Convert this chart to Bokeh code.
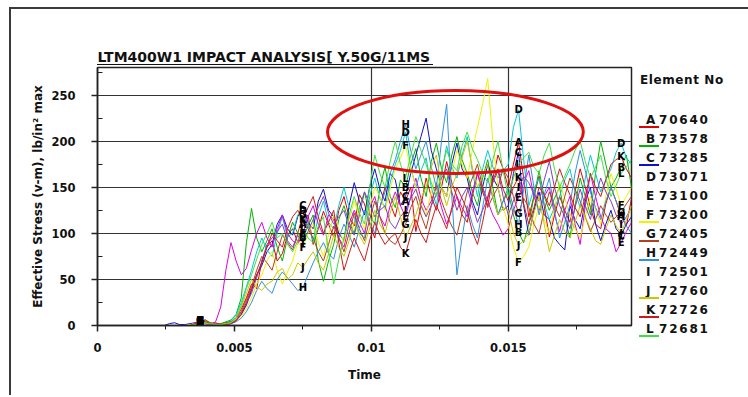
from bokeh.plotting import figure
from bokeh.layouts import row
from bokeh.models import FixedTicker, Div
from bokeh.core.properties import value
from bokeh.embed import file_html
from bokeh.resources import INLINE

TITLE = "LTM400W1 IMPACT ANALYSIS[ Y.50G/11MS"
X_LABEL = "Time"
Y_LABEL = "Effective Stress (v-m), lb/in\u00b2 max"
LEGEND_TITLE = "Element No"

TIME = [0, 0.0001875, 0.000375, 0.0005625, 0.00075, 0.0009375, 0.001125, 0.0013125, 0.0015, 0.0016875,
        0.001875, 0.0020625, 0.00225, 0.0024375, 0.002625, 0.0028125, 0.003, 0.0031875, 0.003375, 0.0035625,
        0.00375, 0.0039375, 0.004125, 0.0043125, 0.0045, 0.0046875, 0.004875, 0.0050625, 0.00525, 0.0054375,
        0.005625, 0.0058125, 0.006, 0.0061875, 0.006375, 0.0065625, 0.00675, 0.0069375, 0.007125, 0.0073125,
        0.0075, 0.0076875, 0.007875, 0.0080625, 0.00825, 0.0084375, 0.008625, 0.0088125, 0.009, 0.0091875,
        0.009375, 0.0095625, 0.00975, 0.0099375, 0.010125, 0.0103125, 0.0105, 0.0106875, 0.010875, 0.0110625,
        0.01125, 0.0114375, 0.011625, 0.0118125, 0.012, 0.0121875, 0.012375, 0.0125625, 0.01275, 0.0129375,
        0.013125, 0.0133125, 0.0135, 0.0136875, 0.013875, 0.0140625, 0.01425, 0.0144375, 0.014625, 0.0148125,
        0.015, 0.0151875, 0.015375, 0.0155625, 0.01575, 0.0159375, 0.016125, 0.0163125, 0.0165, 0.0166875,
        0.016875, 0.0170625, 0.01725, 0.0174375, 0.017625, 0.0178125, 0.018, 0.0181875, 0.018375, 0.0185625,
        0.01875, 0.0189375, 0.019125, 0.0193125, 0.0195]

LETTERS = ["A", "B", "C", "D", "E", "F", "G", "H", "I", "J", "K", "L"]
ELEMENT_IDS = ["70640", "73578", "73285", "73071", "73100", "73200",
               "72405", "72449", "72501", "72760", "72726", "72681"]
COLORS = ["#e00000", "#00b400", "#1010c8", "#00c8d2", "#e000e0", "#f0f000",
          "#b04020", "#3090e0", "#8040c0", "#c8c800", "#d01818", "#40e040"]
LEGEND_LINE = [True, True, True, False, False, True, True, True, False, True, True, True]

S_A = [0, 0, 0, 0, 0, 0, 0, 0, 0, 0,
       0, 0, 0, 0, 0, 0, 0, 0, 1, 0,
       4, 6, 2, 3, 1, 2, 4, 8, 18, 30,
       45, 40, 70, 85, 92, 70, 78, 98, 105, 90,
       110, 120, 88, 105, 124, 110, 96, 125, 140, 118,
       108, 142, 132, 110, 95, 128, 150, 132, 118, 145,
       135, 150, 102, 130, 160, 140, 125, 150, 178, 155,
       140, 120, 112, 140, 165, 145, 130, 160, 185, 170,
       150, 175, 199, 160, 118, 140, 162, 130, 96, 120,
       140, 125, 112, 145, 170, 150, 128, 110, 105, 132,
       150, 135, 118, 108, 138]
S_B = [0, 0, 0, 0, 0, 0, 0, 0, 0, 0,
       0, 0, 0, 0, 0, 0, 0, 0, 0, 2,
       5, 4, 3, 1, 2, 4, 6, 12, 30, 90,
       127, 95, 80, 92, 105, 85, 70, 95, 112, 100,
       95, 108, 120, 70, 48, 70, 88, 115, 130, 112,
       100, 128, 145, 120, 110, 150, 172, 140, 128, 158,
       150, 175, 192, 160, 140, 178, 198, 170, 155, 185,
       205, 180, 165, 145, 130, 160, 180, 150, 120, 135,
       145, 120, 101, 90, 110, 140, 168, 140, 125, 138,
       150, 118, 95, 130, 160, 140, 120, 165, 200, 175,
       150, 160, 172, 185, 150]
S_C = [0, 0, 0, 0, 0, 0, 0, 0, 0, 0,
       0, 0, 0, 0, 2, 3, 1, 1, 2, 3,
       4, 2, 1, 0, 0, 1, 3, 6, 12, 22,
       38, 55, 65, 80, 88, 110, 120, 105, 98, 118,
       130, 112, 105, 135, 148, 125, 118, 100, 92, 130,
       155, 135, 120, 150, 170, 148, 135, 165, 158, 130,
       140, 165, 185, 205, 225, 190, 170, 150, 140, 175,
       198, 170, 160, 135, 120, 150, 175, 160, 150, 125,
       130, 165, 188, 130, 98, 125, 145, 120, 115, 95,
       88, 82, 130, 115, 105, 135, 150, 110, 92, 110,
       125, 105, 98, 110, 118]
S_D = [0, 0, 0, 0, 0, 0, 0, 0, 0, 0,
       0, 0, 0, 0, 0, 0, 0, 0, 0, 1,
       3, 4, 2, 1, 1, 3, 5, 12, 25, 42,
       60, 80, 95, 82, 75, 100, 118, 96, 100, 120,
       125, 108, 92, 118, 135, 112, 105, 130, 150, 128,
       118, 100, 95, 140, 160, 138, 128, 155, 175, 190,
       210, 172, 150, 168, 182, 150, 130, 165, 195, 172,
       160, 185, 205, 168, 140, 170, 190, 172, 160, 168,
       175, 215, 234, 180, 130, 148, 160, 132, 115, 128,
       140, 158, 170, 145, 128, 160, 185, 165, 145, 158,
       170, 188, 198, 182, 175]
S_E = [0, 0, 0, 0, 0, 0, 0, 0, 0, 0,
       0, 0, 0, 0, 0, 0, 0, 0, 0, 1,
       3, 2, 1, 4, 20, 60, 90, 70, 55, 62,
       82, 100, 112, 95, 85, 105, 120, 100, 92, 88,
       100, 118, 130, 110, 98, 120, 115, 95, 85, 110,
       125, 112, 100, 128, 140, 118, 108, 130, 145, 130,
       118, 140, 160, 138, 125, 135, 150, 128, 110, 125,
       140, 128, 118, 145, 165, 150, 135, 120, 110, 98,
       105, 125, 139, 155, 168, 140, 125, 140, 150, 120,
       102, 125, 140, 110, 88, 130, 165, 140, 118, 105,
       100, 80, 90, 102, 112]
S_F = [0, 0, 0, 0, 0, 0, 0, 0, 0, 0,
       0, 0, 0, 0, 0, 0, 0, 0, 1, 2,
       4, 3, 2, 1, 1, 2, 3, 6, 10, 18,
       30, 45, 55, 70, 80, 60, 45, 58, 70, 90,
       85, 100, 110, 90, 75, 98, 120, 105, 90, 115,
       135, 118, 105, 128, 150, 140, 125, 148, 170, 182,
       195, 170, 150, 132, 120, 145, 165, 150, 140, 165,
       190, 175, 160, 190, 215, 240, 268, 200, 150, 128,
       110, 85, 68, 75, 85, 110, 130, 115, 100, 128,
       155, 138, 120, 105, 95, 118, 140, 125, 110, 140,
       165, 148, 130, 140, 150]
S_G = [0, 0, 0, 0, 0, 0, 0, 0, 0, 0,
       0, 0, 0, 0, 0, 0, 0, 0, 0, 2,
       5, 6, 3, 2, 2, 3, 4, 8, 15, 28,
       42, 60, 75, 68, 60, 80, 98, 90, 82, 100,
       120, 105, 95, 80, 70, 88, 108, 95, 80, 100,
       122, 105, 92, 115, 135, 118, 100, 92, 88, 98,
       110, 128, 140, 120, 105, 130, 155, 135, 120, 108,
       98, 122, 145, 160, 175, 150, 128, 140, 150, 170,
       160, 140, 122, 138, 128, 110, 100, 125, 145, 130,
       118, 140, 160, 148, 135, 118, 102, 115, 130, 120,
       112, 118, 123, 132, 140]
S_H = [0, 0, 0, 0, 0, 0, 0, 0, 0, 0,
       0, 0, 0, 0, 0, 0, 0, 0, 0, 1,
       4, 3, 2, 1, 1, 1, 2, 4, 8, 15,
       25, 38, 48, 40, 35, 50, 58, 52, 45, 38,
       41, 55, 68, 80, 90, 78, 72, 95, 110, 98,
       85, 105, 125, 112, 100, 128, 145, 165, 180, 200,
       218, 190, 170, 185, 200, 172, 150, 200, 240, 140,
       55, 95, 130, 110, 95, 128, 160, 138, 120, 135,
       150, 128, 110, 148, 185, 150, 120, 142, 160, 125,
       95, 112, 130, 165, 190, 168, 145, 128, 115, 135,
       150, 135, 120, 108, 100]
S_I = [0, 0, 0, 0, 0, 0, 0, 0, 0, 0,
       0, 0, 0, 0, 0, 0, 0, 0, 0, 1,
       3, 2, 1, 0, 0, 1, 2, 6, 14, 24,
       35, 52, 70, 88, 95, 102, 110, 92, 85, 98,
       90, 102, 115, 128, 140, 122, 110, 118, 125, 108,
       98, 120, 145, 132, 118, 125, 130, 112, 105, 118,
       125, 138, 148, 130, 118, 130, 142, 160, 170, 145,
       125, 140, 150, 130, 112, 125, 138, 155, 168, 140,
       120, 135, 150, 162, 155, 142, 135, 158, 178, 150,
       130, 118, 105, 128, 148, 130, 115, 140, 160, 145,
       135, 120, 110, 118, 128]
S_J = [0, 0, 0, 0, 0, 0, 0, 0, 0, 0,
       0, 0, 0, 0, 0, 0, 0, 0, 0, 1,
       3, 2, 2, 1, 1, 2, 3, 8, 20, 35,
       50, 42, 38, 45, 48, 58, 62, 50, 55, 68,
       63, 72, 80, 68, 60, 78, 98, 85, 75, 92,
       112, 98, 88, 105, 125, 110, 100, 122, 140, 118,
       95, 108, 120, 138, 150, 172, 185, 150, 130, 150,
       165, 182, 200, 172, 150, 162, 175, 140, 120, 128,
       125, 100, 87, 92, 100, 122, 140, 110, 80, 98,
       115, 102, 95, 112, 130, 118, 105, 92, 88, 105,
       120, 108, 100, 115, 130]
S_K = [0, 0, 0, 0, 0, 0, 0, 0, 0, 0,
       0, 0, 0, 0, 0, 0, 0, 0, 0, 2,
       5, 4, 2, 1, 1, 1, 2, 5, 12, 25,
       40, 55, 68, 85, 100, 92, 85, 105, 118, 125,
       115, 128, 140, 118, 100, 112, 125, 90, 60, 78,
       95, 82, 70, 92, 112, 98, 88, 95, 100, 85,
       78, 98, 115, 100, 90, 112, 130, 118, 105, 128,
       150, 138, 125, 102, 88, 112, 140, 158, 170, 148,
       135, 150, 161, 132, 110, 128, 150, 142, 130, 150,
       170, 155, 142, 128, 118, 140, 165, 150, 140, 158,
       175, 180, 183, 170, 160]
S_L = [0, 0, 0, 0, 0, 0, 0, 0, 0, 0,
       0, 0, 0, 0, 0, 0, 0, 0, 0, 1,
       4, 3, 2, 1, 1, 2, 3, 10, 22, 40,
       55, 72, 88, 100, 112, 95, 100, 88, 80, 92,
       105, 95, 90, 108, 118, 80, 45, 72, 95, 120,
       140, 122, 110, 150, 185, 165, 150, 178, 200, 175,
       160, 185, 205, 190, 175, 155, 140, 168, 190, 175,
       168, 195, 210, 192, 180, 165, 155, 180, 200, 168,
       140, 160, 175, 182, 188, 172, 165, 185, 198, 170,
       150, 162, 175, 190, 200, 178, 160, 172, 185, 160,
       140, 152, 165, 172, 180]
SERIES = [S_A, S_B, S_C, S_D, S_E, S_F, S_G, S_H, S_I, S_J, S_K, S_L]

# sample indices where the curve letters are stamped
LETTER_IDX = [20, 40, 60, 82, 102]

X_TICKS = [0, 0.005, 0.01, 0.015]
X_TICK_LABELS = ["0", "0.005", "0.01", "0.015"]
X_MINOR = [0.0025, 0.0075, 0.0125, 0.0175]
X_GRID = [0.01, 0.015]
Y_TICKS = [0, 50, 100, 150, 200, 250]
Y_MINOR = [25, 75, 125, 175, 225, 275]

# highlight ellipse (data units)
ELL_X, ELL_Y, ELL_W, ELL_H = 0.01307, 210, 0.00934, 90

FONT = "DejaVu Sans"
INK = "#111111"

p = figure(width=624, height=386, x_range=(0, 0.0195), y_range=(0, 280),
           output_backend="svg", toolbar_location=None,
           min_border_left=86, min_border_top=58, min_border_right=4, min_border_bottom=70,
           title=TITLE)
p.background_fill_color = "white"
p.border_fill_color = "white"
p.outline_line_color = "#222222"
p.outline_line_width = 1.5

p.title.text_font = FONT
p.title.text_font_size = "14px"
p.title.text_font_style = "bold"
p.title.align = "left"
p.title.standoff = 5
p.title.text_color = INK

# axes
p.xaxis.ticker = FixedTicker(ticks=X_TICKS, minor_ticks=X_MINOR)
p.xaxis.major_label_overrides = {t: s for t, s in zip(X_TICKS, X_TICK_LABELS)}
p.yaxis.ticker = FixedTicker(ticks=Y_TICKS, minor_ticks=Y_MINOR)
for ax in (p.xaxis, p.yaxis):
    ax.axis_line_color = "#222222"
    ax.axis_line_width = 1.5
    ax.major_tick_line_color = "#222222"
    ax.minor_tick_line_color = "#222222"
    ax.major_tick_line_width = 1.5
    ax.major_label_text_font = FONT
    ax.major_label_text_font_style = "bold"
    ax.major_label_text_font_size = "11.5px"
    ax.major_label_text_color = INK
    ax.axis_label_text_font = FONT
    ax.axis_label_text_font_style = "bold"
    ax.axis_label_text_font_size = "12px"
    ax.axis_label_text_color = INK
p.xaxis.major_tick_in = 0
p.xaxis.major_tick_out = 6
p.xaxis.minor_tick_in = 0
p.xaxis.minor_tick_out = 4
p.xaxis.major_label_standoff = 11
p.xaxis.axis_label = X_LABEL
p.xaxis.axis_label_standoff = 13
p.yaxis.major_tick_in = 0
p.yaxis.major_tick_out = 6
p.yaxis.minor_tick_in = 5
p.yaxis.minor_tick_out = 0
p.yaxis.major_label_standoff = 16
p.yaxis.axis_label = Y_LABEL
p.yaxis.axis_label_standoff = 3

p.xgrid.ticker = FixedTicker(ticks=X_GRID)
p.ygrid.ticker = FixedTicker(ticks=Y_TICKS)
for g in (p.xgrid, p.ygrid):
    g.grid_line_color = "#333333"
    g.grid_line_alpha = 1.0
    g.grid_line_width = 1.2

# curves
for s, c in zip(SERIES, COLORS):
    p.line(TIME, s, line_color=c, line_width=1.0)

# curve letters
lx, ly, lt = [], [], []
for letter, s in zip(LETTERS, SERIES):
    for i in LETTER_IDX:
        lx.append(TIME[i])
        ly.append(s[i])
        lt.append(letter)
p.text(x=lx, y=ly, text=lt, text_font=value(FONT), text_font_style="bold",
       text_font_size="10px", text_align="center", text_baseline="middle",
       text_color="black")

# highlight ellipse
p.ellipse(x=[ELL_X], y=[ELL_Y], width=[ELL_W], height=[ELL_H],
          fill_color=None, line_color="#e01010", line_width=3)

# legend panel (HTML), rows laid out in pixels; it also carries the title underline
LEG_W = 126
ROW0, ROW_STEP = 111, 19
parts = ['<div style="position:relative;width:%dpx;height:386px;overflow:visible;'
         'font-family:\'DejaVu Sans\';font-weight:bold;font-size:12px;color:#111;line-height:14px;">' % LEG_W,
         '<div style="position:absolute;left:-538px;top:55px;width:336px;height:0;'
         'border-top:1.5px solid #111;"></div>',
         '<div style="position:absolute;left:5px;top:64px;white-space:nowrap;letter-spacing:0.6px;">%s</div>'
         % LEGEND_TITLE]
for k, (letter, eid, c, show) in enumerate(zip(LETTERS, ELEMENT_IDS, COLORS, LEGEND_LINE)):
    yc = ROW0 + ROW_STEP * k
    parts.append('<div style="position:absolute;left:11px;top:%dpx;">%s</div>' % (yc - 7, letter))
    parts.append('<div style="position:absolute;left:24px;top:%dpx;letter-spacing:1.8px;">%s</div>'
                 % (yc - 7, eid))
    if show:
        parts.append('<div style="position:absolute;left:4px;top:%dpx;width:20px;height:0;'
                     'border-top:2px solid %s;"></div>' % (yc + 6, c))
parts.append('</div>')
leg = Div(text="".join(parts), width=LEG_W, height=386, margin=0,
          styles={"overflow": "visible"})

root = row(p, leg)
root.styles = {"position": "absolute", "left": "9px", "top": "7px",
               "border-left": "2px solid #3a3a3a", "border-top": "2px solid #3a3a3a"}

open("out.html", "w").write(file_html(root, INLINE))
